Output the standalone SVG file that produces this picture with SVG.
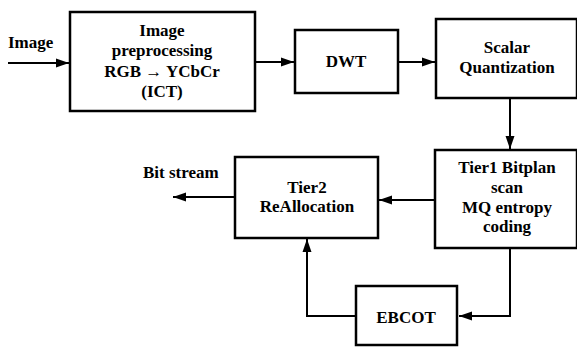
<svg xmlns="http://www.w3.org/2000/svg" width="577" height="347" viewBox="0 0 577 347">
<defs>
<style>
.box{fill:#fff;stroke:#000;stroke-width:2.5}
.t{font-family:"Liberation Serif","Times New Roman",serif;font-weight:bold;font-size:17px;fill:#000;text-anchor:middle}
.tl{text-anchor:start}
.c{fill:none;stroke:#000;stroke-width:2}
</style>
<marker id="ah" markerUnits="userSpaceOnUse" markerWidth="14" markerHeight="10" refX="13" refY="5" orient="auto">
<path d="M0,0.5 L13,5 L0,9.5 Z" fill="#000"/>
</marker>
</defs>
<rect width="577" height="347" fill="#fff"/>
<g id="connectors">
<path class="c" d="M8,63 H69" marker-end="url(#ah)"/>
<path class="c" d="M256,62 H294" marker-end="url(#ah)"/>
<path class="c" d="M399,62 H435" marker-end="url(#ah)"/>
<path class="c" d="M510,99 V149" marker-end="url(#ah)"/>
<path class="c" d="M434,200 H379" marker-end="url(#ah)"/>
<path class="c" d="M234,197 H173" marker-end="url(#ah)"/>
<path class="c" d="M510,249 V316 H459" marker-end="url(#ah)"/>
<path class="c" d="M355,316 H307 V239" marker-end="url(#ah)"/>
</g>
<g id="input-label"><text class="t tl" x="8" y="48">Image</text></g>
<g id="output-label"><text class="t tl" x="143" y="178">Bit stream</text></g>
<g id="preprocessing">
<rect class="box" x="70" y="12" width="185" height="99"/>
<text class="t" x="162" y="36">Image</text>
<text class="t" x="162" y="56">preprocessing</text>
<text class="t" x="162" y="77">RGB → YCbCr</text>
<text class="t" x="162" y="97">(ICT)</text>
</g>
<g id="dwt">
<rect class="box" x="295" y="30" width="103" height="63"/>
<text class="t" x="346" y="67">DWT</text>
</g>
<g id="quantization">
<rect class="box" x="436" y="19" width="141" height="79"/>
<text class="t" x="507" y="53">Scalar</text>
<text class="t" x="507" y="73">Quantization</text>
</g>
<g id="tier1">
<rect class="box" x="435" y="150" width="142" height="98"/>
<text class="t" x="507" y="173">Tier1 Bitplan</text>
<text class="t" x="507" y="193">scan</text>
<text class="t" x="507" y="213">MQ entropy</text>
<text class="t" x="507" y="232">coding</text>
</g>
<g id="tier2">
<rect class="box" x="235" y="157" width="143" height="81"/>
<text class="t" x="307" y="193">Tier2</text>
<text class="t" x="307" y="212">ReAllocation</text>
</g>
<g id="ebcot">
<rect class="box" x="356" y="286" width="101" height="59"/>
<text class="t" x="406" y="323">EBCOT</text>
</g>
</svg>
